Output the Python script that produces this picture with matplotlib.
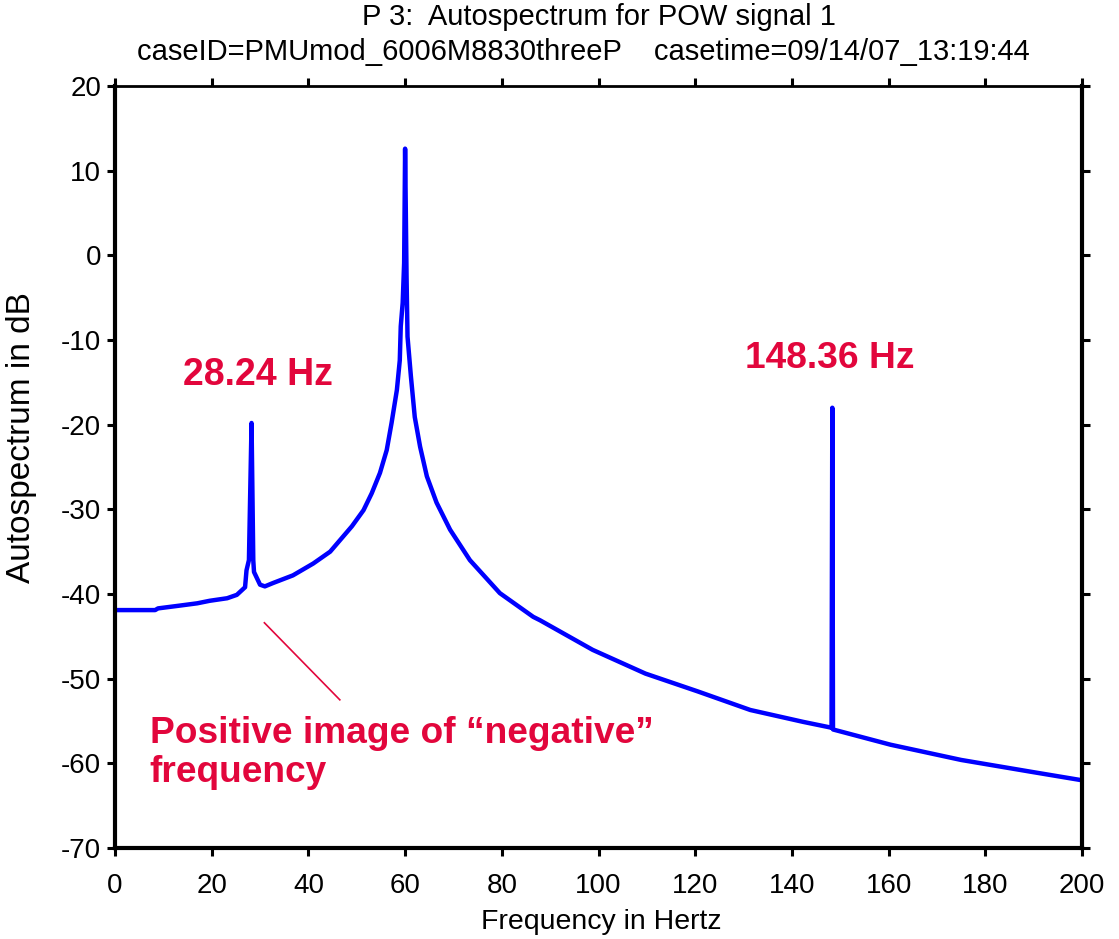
import matplotlib
matplotlib.use("Agg")
import matplotlib.pyplot as plt

plt.rcParams['font.family'] = ['Liberation Sans', 'DejaVu Sans']
plt.rcParams['axes.unicode_minus'] = False

# ---- data ----
freq_hz = [0, 8.3, 8.9, 13, 17, 19.6, 23.2, 25.2, 26.9, 27.2, 27.7, 28.24,
           28.6, 28.75, 30, 31, 32.7, 36.8, 41, 44.5, 49, 51.4, 53.1, 54.8,
           56.2, 57.2, 58.3, 58.9, 59.1, 59.5, 59.8, 60.0, 60.3, 60.5, 61.2,
           62.0, 63.1, 64.5, 66.5, 69.3, 73.4, 79.6, 86.5, 87.9, 98.8, 109.7,
           120.5, 131.4, 142.3, 147.4, 148.2, 148.36, 148.5, 160.4, 175,
           189.5, 200]
auto_db = [-41.9, -41.9, -41.7, -41.4, -41.1, -40.8, -40.5, -40.1, -39.2,
           -37.2, -36.0, -19.8, -36.0, -37.4, -38.9, -39.1, -38.7, -37.8,
           -36.4, -35.0, -32.0, -30.1, -28.1, -25.7, -23.0, -19.8, -15.9,
           -12.4, -8.4, -5.6, -0.9, 12.6, -2.5, -9.6, -14.3, -19.1, -22.6,
           -26.1, -29.2, -32.4, -36.0, -39.9, -42.7, -43.1, -46.6, -49.4,
           -51.5, -53.7, -55.1, -55.7, -55.8, -18.0, -56.0, -57.8, -59.6,
           -61.0, -62.0]

x_ticks = [0, 20, 40, 60, 80, 100, 120, 140, 160, 180, 200]
y_ticks = [20, 10, 0, -10, -20, -30, -40, -50, -60, -70]

title_line1 = "P 3:  Autospectrum for POW signal 1"
title_line2 = "caseID=PMUmod_6006M8830threeP    casetime=09/14/07_13:19:44"
x_label = "Frequency in Hertz"
y_label = "Autospectrum in dB"
peak_labels = ["28.24 Hz", "148.36 Hz"]
note_lines = ["Positive image of \u201cnegative\u201d", "frequency"]

red = '#E2063C'
W, H = 1119, 939

fig = plt.figure(figsize=(W / 100, H / 100), dpi=100)
ax = fig.add_axes([115 / W, 1 - 848 / H, (1082 - 115) / W, (848 - 86) / H])

ax.plot(freq_hz, auto_db, color='#0000FF', lw=3.2, solid_joinstyle='round',
        solid_capstyle='round')

ax.set_xlim(0, 200)
ax.set_ylim(-70, 20)
ax.set_xticks(x_ticks)
ax.set_yticks(y_ticks)
ax.tick_params(axis='both', which='major', direction='out', length=6,
               width=2.2, labelsize=20, color='black')
ax.tick_params(top=True, right=True, labeltop=False, labelright=False)
ax.tick_params(axis='x', pad=12)
ax.tick_params(axis='y', pad=4)

for side in ['left', 'right', 'bottom']:
    ax.spines[side].set_linewidth(3)
ax.spines['top'].set_linewidth(2)

fig.text(601 / W, 1 - 922 / H, x_label, ha='center', va='center', fontsize=20.5)
fig.text(22 / W, 1 - 438 / H, y_label, ha='center', va='center', fontsize=24,
         rotation=90)

fig.text(599 / W, 1 - 17 / H, title_line1, ha='center', va='center', fontsize=21)
fig.text(583 / W, 1 - 52 / H, title_line2, ha='center', va='center', fontsize=21)

ax.text(14.1, -15.3, peak_labels[0], color=red, fontsize=27,
        fontweight='bold', ha='left', va='baseline')
ax.text(130.3, -13.3, peak_labels[1], color=red, fontsize=26.7,
        fontweight='bold', ha='left', va='baseline')
ax.text(7.2, -57.6, note_lines[0], color=red, fontsize=26.7,
        fontweight='bold', ha='left', va='baseline')
ax.text(7.2, -62.2, note_lines[1], color=red, fontsize=26.7,
        fontweight='bold', ha='left', va='baseline')

ax.plot([30.9, 46.5], [-43.4, -52.5], color=red, lw=1.2)

fig.savefig("out.png", dpi=100)
